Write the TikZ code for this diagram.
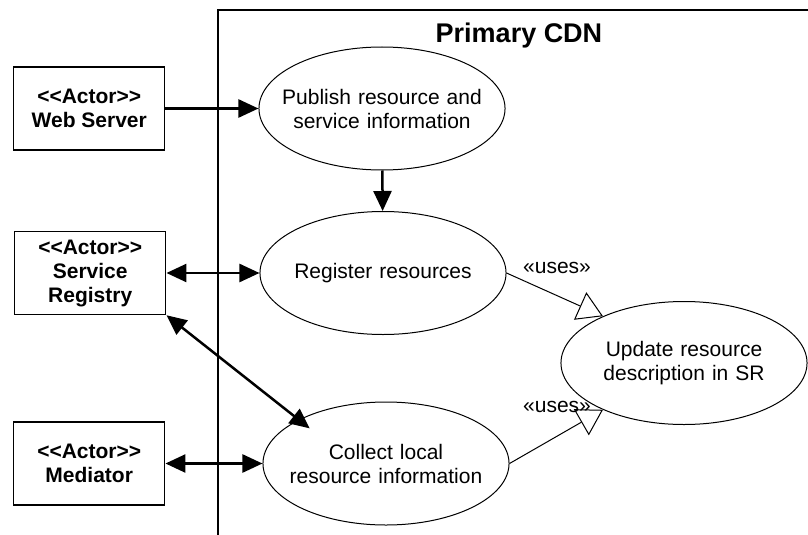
\documentclass[tikz,border=0pt]{standalone}
\usepackage{fontspec}
\setmainfont{Liberation Sans}
\usetikzlibrary{positioning,shapes.geometric,arrows.meta}

\tikzset{
  actor/.style={draw, line width=1.5pt, minimum width=151pt, minimum height=83pt,
    align=center, font=\fontsize{21}{24}\selectfont\bfseries},
  usecase/.style={ellipse, draw, line width=1pt, minimum width=246pt,
    minimum height=123pt, text width=210pt, inner xsep=-18pt, inner ysep=0pt,
    align=center, font=\fontsize{21}{24}\selectfont},
  stereo/.style={font=\fontsize{21}{24}\selectfont},
  assoc/.style={line width=2.5pt, -{Triangle[length=20pt,width=18pt]}},
  biassoc/.style={line width=2.5pt,
    {Triangle[length=20pt,width=18pt]}-{Triangle[length=20pt,width=18pt]}},
  uses/.style={line width=1pt, -{Triangle[length=25pt,width=30pt,fill=white]}}
}

\begin{document}
\begin{tikzpicture}[x=1pt,y=-1pt]
\useasboundingbox (0,0) rectangle (808,535);

% system boundary
\draw[line width=1.5pt] (218,535) -- (218,10) -- (808,10);
\node[font=\fontsize{27}{32}\selectfont\bfseries, anchor=base] (cdn) at (519,43) {Primary CDN};

% use cases
\node[usecase] (pub) at (382,108.5) {Publish resource and\\service information};
\node[usecase] (reg) at (383,273) {Register resources};
\node[usecase] (coll) at (386,463.5) {Collect local\\resource information};
\node[usecase] (upd) at (684,363) {Update resource\\description in SR};

% actors
\node[actor, left = 93pt of pub] (web) {<{}<Actor>{}>\\Web Server};
\node[actor, left = 93pt of reg] (sreg) {<{}<Actor>{}>\\Service\\Registry};
\node[actor, left = 97pt of coll] (med) {<{}<Actor>{}>\\Mediator};

\draw[assoc] (web) -- (pub);
\draw[assoc] (pub) -- (reg);
\draw[biassoc] (sreg) -- (reg);
\draw[biassoc, shorten >=-14pt] (sreg.south east) -- (coll.north west);
\draw[biassoc] (med) -- (coll);

\draw[uses] (reg.east) -- (upd.150);
\draw[uses] (coll.east) -- (upd.210);
\node[stereo] (use1) at (557,268) {«uses»};
\node[stereo] (use2) at (557,407) {«uses»};
\end{tikzpicture}
\end{document}
